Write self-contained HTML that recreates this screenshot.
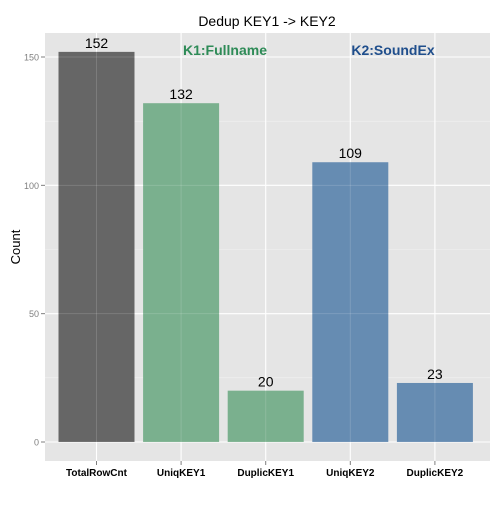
<!DOCTYPE html>
<html><head><meta charset="utf-8"><style>
body{margin:0;background:#fff}
svg{font-family:"Liberation Sans",sans-serif}
</style></head><body>
<svg id="c" width="500" height="500">
<rect x="0" y="0" width="500" height="500" fill="#fff"/>
<text x="267" y="26" font-size="14" text-anchor="middle">Dedup KEY1 -&gt; KEY2</text>
<rect x="45" y="33" width="445" height="428" fill="#e5e5e5"/>
<g id="grid"></g><g id="bars"></g><g id="over"></g><g id="axes"></g>
<text x="225" y="55" font-size="14" font-weight="bold" fill="#2e8b57" text-anchor="middle">K1:Fullname</text>
<text x="393" y="55" font-size="14" font-weight="bold" fill="#1f4e8c" text-anchor="middle">K2:SoundEx</text>
<text transform="translate(20,247) rotate(-90)" font-size="13" text-anchor="middle">Count</text>
</svg>
<script>
const categories=["TotalRowCnt","UniqKEY1","DuplicKEY1","UniqKEY2","DuplicKEY2"];
const values=[152,132,20,109,23];
const colors=["#666666","#7ab08e","#7ab08e","#668cb2","#668cb2"];
const yTicks=[0,50,100,150];
const yMinor=[25,75,125];
const NS="http://www.w3.org/2000/svg";
const y0=442, ppu=(442-57)/150;
const y=v=>y0-v*ppu;
const step=84.6, firstCenter=96.5;
const x=i=>firstCenter+step*i;
const bw=76;
function mk(t,a,p){const e=document.createElementNS(NS,t);for(const k in a)e.setAttribute(k,a[k]);p.appendChild(e);return e;}
const g=document.getElementById('grid'),b=document.getElementById('bars'),o=document.getElementById('over'),ax=document.getElementById('axes');
yMinor.forEach(v=>{const l=mk('line',{x1:45,x2:490,y1:y(v),y2:y(v),stroke:'#f2f2f2','stroke-width':0.6},g);

});
yTicks.forEach(v=>{const l=mk('line',{x1:45,x2:490,y1:y(v),y2:y(v),stroke:'#fff','stroke-width':1.1},g);


const t=mk('line',{x1:41,x2:45,y1:y(v),y2:y(v),stroke:'#7f7f7f'},ax);


const tx=mk('text',{x:39,y:y(v)+3.5,'font-size':9,fill:'#7f7f7f','text-anchor':'end'},ax);tx.textContent=v;

});
categories.forEach((c,i)=>{const cx=x(i);
const gl=mk('line',{x1:cx,x2:cx,y1:33,y2:461,stroke:'#fff','stroke-width':1.1},g);


const r=mk('rect',{x:cx-bw/2,y:y(values[i]),width:bw,height:values[i]*ppu,fill:colors[i]},b);


const ol=mk('line',{x1:cx,x2:cx,y1:y(values[i]),y2:y0,stroke:'#fff','stroke-opacity':0.15},o);


const vl=mk('text',{x:cx,y:y(values[i])-4,'font-size':14,'text-anchor':'middle'},o);vl.textContent=values[i];


const t=mk('line',{x1:cx,x2:cx,y1:461,y2:465,stroke:'#7f7f7f'},ax);


const tx=mk('text',{x:cx,y:476,'font-size':10,'font-weight':'bold','text-anchor':'middle'},ax);tx.textContent=c;

});
yTicks.forEach(v=>{const l=mk('line',{x1:45,x2:490,y1:y(v),y2:y(v),stroke:'#fff','stroke-opacity':0.15},o);

});
</script>
</body></html>
